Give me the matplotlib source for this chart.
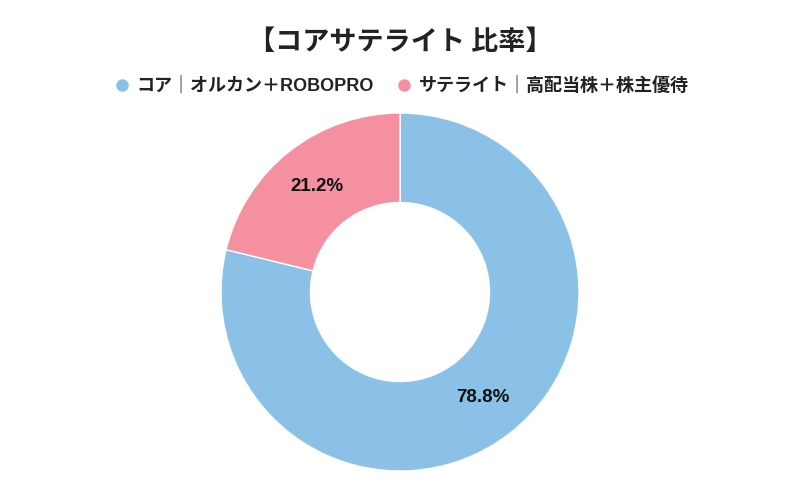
import matplotlib
matplotlib.use("Agg")
import matplotlib.pyplot as plt
from matplotlib.lines import Line2D

plt.rcParams['font.family'] = ['Liberation Sans', 'Noto Sans CJK JP']

labels = ["コア｜オルカン＋ROBOPRO", "サテライト｜高配当株＋株主優待"]
values = [78.8, 21.2]
colors = ["#8BC1E7", "#F590A0"]
title = "【コアサテライト 比率】"

fig = plt.figure(figsize=(8, 4.96), dpi=100)
ax = fig.add_axes([221 / 800, 25 / 496, 358 / 800, 358 / 496])

wedges, texts, autotexts = ax.pie(
    values, colors=colors, startangle=90, counterclock=False,
    radius=1.0, autopct="%.1f%%", pctdistance=0.75,
    wedgeprops=dict(width=0.5, edgecolor="white", linewidth=1),
    textprops=dict(fontsize=13.5, fontweight="bold", color="#111111"),
)
ax.set_xlim(-1, 1)
ax.set_ylim(-1, 1)
ax.set_aspect("equal")
ax.axis("off")

fig.text(0.5, 1 - 42 / 496, title, ha="center", va="center",
         fontsize=19.5, fontweight="bold", color="#222222",
         family=['Noto Sans CJK JP', 'DejaVu Sans'])

handles = [Line2D([], [], marker="o", linestyle="", markersize=8,
                  markerfacecolor=c, markeredgecolor=c) for c in colors]
fig.legend(handles, labels, loc="center", bbox_to_anchor=(0.5, 1 - 86 / 496),
           ncol=2, frameon=False, handletextpad=0.2, columnspacing=1.1,
           handlelength=1.2, prop=dict(size=13, weight="bold"),
           labelcolor="#222222")

fig.savefig("out.png", dpi=100)
